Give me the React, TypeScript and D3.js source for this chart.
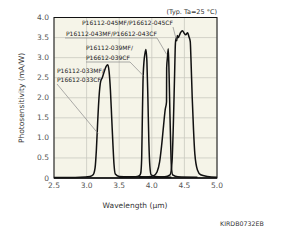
import React, { useEffect, useRef } from 'react';
import * as d3 from 'd3';

// wavelength (µm), photosensitivity (mA/W)
const curve033: [number, number][] = [
  [2.5, 0.01], [2.9, 0.02], [3.05, 0.04], [3.1, 0.08], [3.13, 0.25], [3.15, 0.7],
  [3.17, 1.4], [3.19, 2.0], [3.215, 2.4], [3.24, 2.5], [3.27, 2.65], [3.3, 2.78],
  [3.325, 2.82], [3.345, 2.65], [3.365, 2.2], [3.385, 1.5], [3.405, 0.8],
  [3.42, 0.35], [3.44, 0.1], [3.5, 0.04], [3.8, 0.03], [4.0, 0.02],
];
const curve039: [number, number][] = [
  [3.5, 0.02], [3.75, 0.03], [3.81, 0.06], [3.83, 0.12], [3.845, 0.5], [3.855, 1.5],
  [3.865, 2.4], [3.88, 2.9], [3.895, 3.1], [3.91, 3.2], [3.925, 2.9], [3.94, 2.0],
  [3.955, 0.9], [3.97, 0.3], [3.99, 0.08], [4.05, 0.04], [4.3, 0.02],
];
const curve043: [number, number][] = [
  [3.8, 0.02], [3.95, 0.03], [4.03, 0.06], [4.08, 0.15], [4.12, 0.4], [4.15, 0.8],
  [4.18, 1.3], [4.205, 1.7], [4.226, 1.9], [4.228, 2.75], [4.24, 3.0], [4.253, 3.22],
  [4.265, 2.6], [4.278, 1.6], [4.29, 0.8], [4.3, 0.3], [4.32, 0.08], [4.4, 0.03],
  [4.7, 0.02],
];
const curve045: [number, number][] = [
  [4.0, 0.02], [4.2, 0.03], [4.28, 0.08], [4.31, 0.4], [4.33, 1.3], [4.35, 2.6],
  [4.362, 3.35], [4.372, 3.48], [4.382, 3.42], [4.392, 3.55], [4.405, 3.5], [4.44, 3.62],
  [4.47, 3.67], [4.5, 3.6], [4.52, 3.57], [4.55, 3.62], [4.57, 3.52], [4.59, 3.4],
  [4.6, 3.0], [4.62, 2.0], [4.64, 1.2], [4.66, 0.6], [4.7, 0.2], [4.75, 0.08],
  [4.85, 0.04], [5.0, 0.02],
];
const series = [curve033, curve039, curve043, curve045];

const xTicks = [2.5, 3.0, 3.5, 4.0, 4.5, 5.0];
const yTicks = [0, 0.5, 1.0, 1.5, 2.0, 2.5, 3.0, 3.5, 4.0];

const FONT = 'Verdana, "DejaVu Sans", sans-serif';

const App: React.FC = () => {
  const svgRef = useRef<SVGSVGElement>(null);

  useEffect(() => {
    if (!svgRef.current) return;
    const svg = d3.select(svgRef.current);
    svg.selectAll('*').remove();

    const x = d3.scaleLinear().domain([2.5, 5.0]).range([54, 217]);
    const y = d3.scaleLinear().domain([0, 4.0]).range([178, 17.5]);

    // plot background
    svg.append('rect')
      .attr('x', x(2.5)).attr('y', y(4))
      .attr('width', x(5) - x(2.5)).attr('height', y(0) - y(4))
      .attr('fill', '#f5f4e8');

    // grid
    svg.append('g').selectAll('line').data(xTicks).join('line')
      .attr('x1', d => x(d)).attr('x2', d => x(d))
      .attr('y1', y(0)).attr('y2', y(4))
      .attr('stroke', '#c9c9c0').attr('stroke-width', 0.8);
    svg.append('g').selectAll('line').data(yTicks).join('line')
      .attr('x1', x(2.5)).attr('x2', x(5))
      .attr('y1', d => y(d)).attr('y2', d => y(d))
      .attr('stroke', '#c9c9c0').attr('stroke-width', 0.8);

    // tick labels
    svg.append('g').selectAll('text').data(yTicks).join('text')
      .attr('x', 49).attr('y', d => y(d) + 2.5)
      .attr('text-anchor', 'end')
      .attr('font-family', FONT).attr('font-size', 7.5).attr('fill', '#555')
      .text(d => (d === 0 ? '0' : d.toFixed(1)));
    svg.append('g').selectAll('text').data(xTicks).join('text')
      .attr('x', d => x(d)).attr('y', 188)
      .attr('text-anchor', 'middle')
      .attr('font-family', FONT).attr('font-size', 7.5).attr('fill', '#555')
      .text(d => d.toFixed(1));

    // curves
    const line = d3.line<[number, number]>()
      .x(d => x(d[0])).y(d => y(d[1]))
      .curve(d3.curveMonotoneX);
    svg.append('g').selectAll('path').data(series).join('path')
      .attr('d', d => line(d))
      .attr('fill', 'none').attr('stroke', '#111').attr('stroke-width', 1.5)
      .attr('stroke-linejoin', 'round');

    // frame
    svg.append('rect')
      .attr('x', x(2.5)).attr('y', y(4))
      .attr('width', x(5) - x(2.5)).attr('height', y(0) - y(4))
      .attr('fill', 'none').attr('stroke', '#111').attr('stroke-width', 1);
    svg.append('line')
      .attr('x1', x(2.5)).attr('x2', x(5)).attr('y1', y(0)).attr('y2', y(0))
      .attr('stroke', '#111').attr('stroke-width', 1.6);

    // annotations
    const lab = svg.append('g').attr('font-family', FONT).attr('font-size', 6).attr('fill', '#222');
    const lead = svg.append('g').attr('fill', 'none').attr('stroke', '#8a8a8a').attr('stroke-width', 0.7);

    lab.append('text').attr('x', 82).attr('y', 25).text('P16112-045MF/P16612-045CF');
    lead.append('path').attr('d', `M173,27 L${x(4.375)},${y(3.45)}`);

    lab.append('text').attr('x', 66).attr('y', 36).text('P16112-043MF/P16612-043CF');
    lead.append('path').attr('d', `M65,38 L157,38 L${x(4.228)},${y(3.08)}`);

    lab.append('text').attr('x', 86).attr('y', 50).text('P16112-039MF/');
    lab.append('text').attr('x', 86).attr('y', 59.5).text('P16612-039CF');
    lead.append('path').attr('d', `M86,62 L130,62 L${x(3.87)},${y(2.55)}`);

    lab.append('text').attr('x', 57).attr('y', 73).text('P16112-033MF/');
    lab.append('text').attr('x', 57).attr('y', 82).text('P16612-033CF');
    lead.append('path').attr('d', `M57,84 L${x(3.18)},${y(1.1)}`);

    // titles
    svg.append('text')
      .attr('transform', 'translate(24,98) rotate(-90)')
      .attr('text-anchor', 'middle')
      .attr('font-family', FONT).attr('font-size', 7.5).attr('fill', '#333')
      .text('Photosensitivity (mA/W)');
    svg.append('text')
      .attr('x', 135).attr('y', 208).attr('text-anchor', 'middle')
      .attr('font-family', FONT).attr('font-size', 7.5).attr('fill', '#333')
      .text('Wavelength (µm)');
    svg.append('text')
      .attr('x', 217).attr('y', 14).attr('text-anchor', 'end')
      .attr('font-family', FONT).attr('font-size', 6.5).attr('fill', '#333')
      .text('(Typ. Ta=25 °C)');
    svg.append('text')
      .attr('x', 220).attr('y', 226)
      .attr('font-family', FONT).attr('font-size', 6.3).attr('fill', '#333')
      .text('KIRDB0732EB');
  }, []);

  return (
    <svg
      ref={svgRef}
      width={300}
      height={250}
      style={{ position: 'absolute', left: 0, top: 0, background: '#fff' }}
    />
  );
};

export default App;
